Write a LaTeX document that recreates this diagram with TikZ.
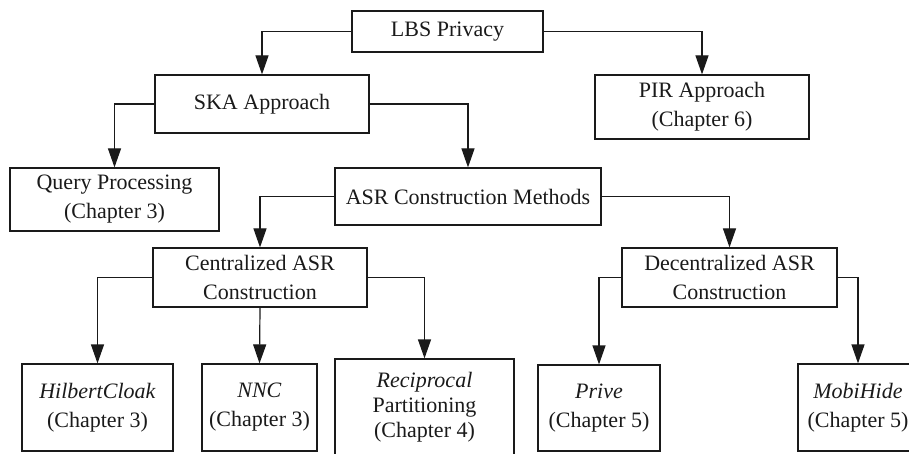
\documentclass[tikz,border=0pt]{standalone}
\usepackage{fontspec}
\setmainfont{Liberation Serif}
\usepackage{xcolor}
\usepackage{tikz}
\usetikzlibrary{arrows.meta}
\definecolor{ink}{HTML}{1A1A1A}
\tikzset{
  box/.style={draw=ink, line width=0.6pt, align=center, inner sep=0pt,
    font=\fontsize{11}{14.5}\selectfont, text=ink},
  arr/.style={draw=ink, line width=0.6pt, -{Triangle[length=9.5pt,width=6.5pt]}},
}

\begin{document}
\begin{tikzpicture}[x=0.5pt,y=-0.5pt]
  \useasboundingbox (0,0) rectangle (909,454);
  % top levels
  \node[box,minimum width=95.5pt,minimum height=20.5pt] (lbs) at (447.5,31.5) {LBS Privacy};
  \node[box,minimum width=107pt,minimum height=29pt] (ska) at (262,104) {SKA Approach};
  \node[box,minimum width=107pt,minimum height=32pt] (pir) at (702,107) {PIR Approach\\(Chapter 6)};
  \node[box,minimum width=104.5pt,minimum height=31.5pt] (qp) at (114.5,199.5) {Query Processing\\(Chapter 3)};
  \node[box,minimum width=133pt,minimum height=28.5pt] (asr) at (468,196.5) {ASR Construction Methods};
  \node[box,minimum width=107pt,minimum height=29.5pt] (cen) at (260,277.5) {Centralized ASR\\Construction};
  \node[box,minimum width=107.5pt,minimum height=29.5pt] (dec) at (729.5,277.5) {Decentralized ASR\\Construction};
  % leaves
  \node[box,minimum width=75.5pt,minimum height=43.5pt] (hc) at (97.5,407.5) {\textit{HilbertCloak}\\(Chapter 3)};
  \node[box,minimum width=57.5pt,minimum height=43.5pt] (nnc) at (259.5,407.5) {\textit{NNC}\\(Chapter 3)};
  \node[box,minimum width=89.5pt,minimum height=48.5pt,font=\fontsize{11}{12.5}\selectfont] (rp) at (424.5,407.5)
    {\textit{Reciprocal}\\Partitioning\\(Chapter 4)};
  \node[box,minimum width=61pt,minimum height=43pt] (prv) at (599,408) {\textit{Prive}\\(Chapter 5)};
  \node[box,minimum width=60pt,minimum height=43.5pt] (mh) at (858,407.5) {\textit{MobiHide}\\(Chapter 5)};
  % connectors
  \draw[arr] (lbs.west) -| (ska.north);
  \draw[arr] (lbs.east) -| (pir.north);
  \draw[arr] (ska.west) -| (qp.north);
  \draw[arr] (ska.east) -| (asr.north);
  \draw[arr] (asr.west) -| (cen.north);
  \draw[arr] (asr.east) -| (dec.north);
  \draw[arr] (cen.west) -| (hc.north);
  \draw[arr] (cen.south) -- (nnc.north);
  \draw[arr] (cen.east) -| (rp.north);
  \draw[arr] (dec.west) -| (prv.north);
  \draw[arr] (dec.east) -| (mh.north);
\end{tikzpicture}
\end{document}
